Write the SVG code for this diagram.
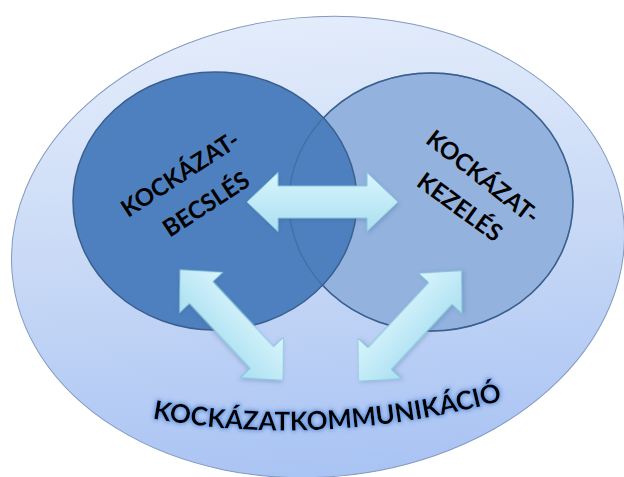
<svg xmlns="http://www.w3.org/2000/svg" width="624" height="477" viewBox="0 0 624 477">
  <defs>
    <linearGradient id="outerGrad" x1="0" y1="0" x2="0" y2="1">
      <stop offset="0" stop-color="#e3ecfb"/>
      <stop offset="0.5" stop-color="#c8d9f6"/>
      <stop offset="1" stop-color="#a9c3f3"/>
    </linearGradient>
    <linearGradient id="arrowGrad" x1="0" y1="0" x2="0" y2="1">
      <stop offset="0" stop-color="#d9f5fc"/>
      <stop offset="1" stop-color="#aadff1"/>
    </linearGradient>
    <filter id="shadow" x="-20%" y="-20%" width="140%" height="140%">
      <feGaussianBlur in="SourceAlpha" stdDeviation="2"/>
      <feOffset dx="1" dy="2" result="o"/>
      <feFlood flood-color="#3a5f8f" flood-opacity="0.3"/>
      <feComposite in2="o" operator="in" result="s"/>
      <feMerge><feMergeNode in="s"/><feMergeNode in="SourceGraphic"/></feMerge>
    </filter>
    <filter id="glow" x="-10%" y="-40%" width="120%" height="180%">
      <feMorphology in="SourceAlpha" operator="dilate" radius="1.2" result="d"/>
      <feGaussianBlur in="d" stdDeviation="2" result="b"/>
      <feFlood flood-color="#4f86d6" flood-opacity="0.75"/>
      <feComposite in2="b" operator="in" result="g"/>
      <feMerge><feMergeNode in="g"/><feMergeNode in="SourceGraphic"/></feMerge>
    </filter>
    <polygon id="dblArrow" points="-75.5,0 -44.5,-29.5 -44.5,-16 44.5,-16 44.5,-29.5 75.5,0 44.5,29.5 44.5,16 -44.5,16 -44.5,29.5"/>
    <path id="arcPath" d="M 150 418 Q 320 450 505 400"/>
  </defs>
  <style>
    .circle { stroke: #3a5f8f; stroke-width: 1.5; }
    .label { font-family: Lato, "Open Sans", "Liberation Sans", sans-serif; font-weight: bold; fill: #000; text-anchor: middle; }
    .arrow { fill: url(#arrowGrad); stroke: #86c6dc; stroke-width: 1; filter: url(#shadow); }
  </style>

  <g id="communication">
    <ellipse cx="318" cy="247" rx="307" ry="230" transform="rotate(-5 318 247)" fill="url(#outerGrad)" stroke="#8399c0" stroke-width="1"/>
    <text class="label" font-size="26" filter="url(#glow)"><textPath href="#arcPath" startOffset="50%">KOCKÁZATKOMMUNIKÁCIÓ</textPath></text>
  </g>

  <g id="management">
    <ellipse class="circle" cx="431" cy="202" rx="142" ry="129" fill="#93b2de"/>
  </g>

  <g id="assessment">
    <ellipse class="circle" cx="215" cy="201" rx="142" ry="129" fill="#4e80bf"/>
    <ellipse cx="431" cy="202" rx="142" ry="129" fill="none" stroke="#3a5f8f" stroke-width="1.3" stroke-opacity="0.55"/>
    <g transform="translate(180 174) rotate(-33)">
      <text class="label" font-size="24" x="0" y="8.5">KOCKÁZAT-</text>
    </g>
    <g transform="translate(206 204) rotate(-33)">
      <text class="label" font-size="24" x="0" y="8.5">BECSLÉS</text>
    </g>
  </g>

  <g id="management-label">
    <g transform="translate(483 177) rotate(38)">
      <text class="label" font-size="24" x="0" y="8.5">KOCKÁZAT-</text>
    </g>
    <g transform="translate(460 207) rotate(36)">
      <text class="label" font-size="24" x="0" y="8.5">KEZELÉS</text>
    </g>
  </g>

  <g id="connectors">
    <use href="#dblArrow" class="arrow" transform="translate(322.5 202)"/>
    <use href="#dblArrow" class="arrow" transform="translate(231.5 325) rotate(47)"/>
    <use href="#dblArrow" class="arrow" transform="translate(410 326) rotate(-47)"/>
  </g>
</svg>
